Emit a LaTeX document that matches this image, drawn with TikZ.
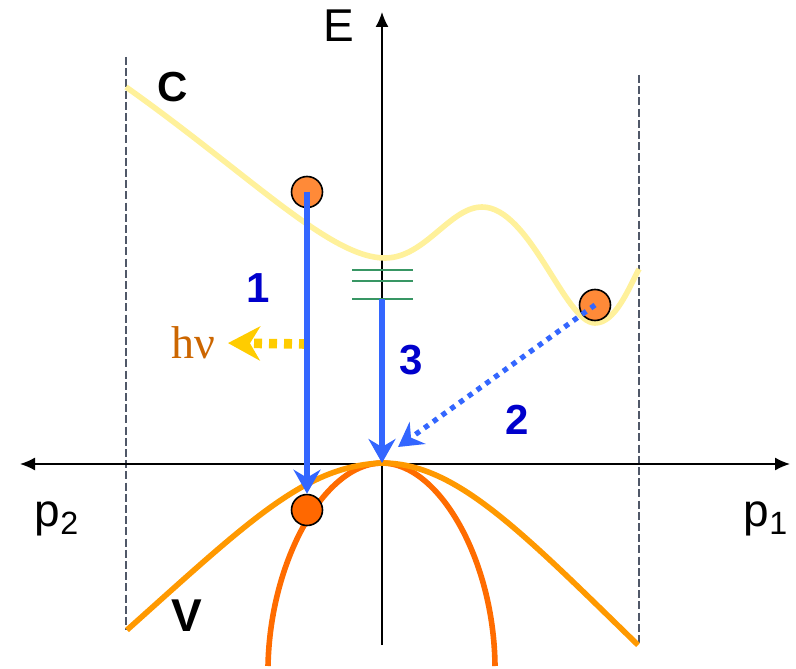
\documentclass[tikz,border=0pt]{standalone}
\usepackage{fontspec}
\setmainfont{Liberation Sans}
\newfontfamily\hvfont{Liberation Serif}
\usetikzlibrary{arrows.meta,positioning}
\definecolor{condband}{RGB}{255,241,155}
\definecolor{valwide}{RGB}{255,153,0}
\definecolor{valnarrow}{RGB}{255,108,0}
\definecolor{hotfill}{RGB}{255,138,56}
\definecolor{holefill}{RGB}{255,104,0}
\definecolor{jumpblue}{RGB}{51,102,255}
\definecolor{lblblue}{RGB}{0,0,204}
\definecolor{photon}{RGB}{255,204,0}
\definecolor{hvtext}{RGB}{204,102,0}
\definecolor{levelgreen}{RGB}{56,150,100}
\definecolor{edgegray}{RGB}{80,88,104}

\begin{document}
\begin{tikzpicture}[x=0.5pt,y=-0.5pt,
  axis/.style={line width=0.75pt},
  zone/.style={draw=edgegray,line width=0.7pt,dash pattern=on 4pt off 1.6pt},
  band/.style={line width=2.8pt},
  carrier/.style={circle,draw=black,line width=0.8pt,minimum size=15.5pt,inner sep=0pt},
  jump/.style={draw=jumpblue,line width=2.6pt,
    -{Stealth[length=12pt,width=13.5pt,inset=4pt]}},
  num/.style={font=\fontsize{21}{24}\selectfont\bfseries,text=lblblue},
  big/.style={font=\fontsize{23}{26}\selectfont},
  axtip/.tip={Latex[length=7.5pt,width=6.5pt]}]
\useasboundingbox (0,0) rectangle (796,668);
% axes and zone edges
\coordinate (pleft) at (20,464);
\coordinate (pright) at (790,464);
\coordinate (ebot) at (382,645);
\coordinate (etop) at (382,12);
\coordinate (zl1) at (126,57);
\coordinate (zl2) at (126,630);
\coordinate (zr1) at (639,75);
\coordinate (zr2) at (639,645);
\draw[zone] (zl1) -- (zl2);
\draw[zone] (zr1) -- (zr2);
\draw[axis,axtip-axtip] (pleft) -- (pright);
\draw[axis,-axtip] (ebot) -- (etop);
\node[big] (elabel) at (339,26) {E};
\node[big] (p2label) at (57,519) {p\textsubscript{2}};
\node[big] (p1label) at (766,519) {p\textsubscript{1}};
% bands
\draw[band,draw=condband] (126,87) .. controls (250,175) and (330,258) .. (385,258)
  .. controls (425,258) and (450,207) .. (482,207)
  .. controls (530,207) and (565,323) .. (595,323)
  .. controls (615,323) and (628,290) .. (639,269);
\draw[band,draw=valnarrow] (268,666) .. controls (270,560) and (325,463) .. (382,463)
  .. controls (439,463) and (494,560) .. (495,666);
\draw[band,draw=valwide] (127,630) .. controls (250,520) and (305,466) .. (382,463)
  .. controls (455,463) and (520,530) .. (638,645);
\node[font=\fontsize{21}{24}\selectfont\bfseries] (clabel) at (173,87) {C};
\node[font=\fontsize{23}{26}\selectfont\bfseries] (vlabel) at (187,616) {V};
% trap levels
\foreach \ly in {270,281,299}
  \draw[levelgreen,line width=1pt] (352,\ly) -- (413,\ly);
\coordinate (level) at (382,299);
\coordinate (gamma) at (382,463);
% carriers
\node[carrier,fill=hotfill] (hot) at (307,192) {};
\node[carrier,fill=hotfill] (valley) at (595,305) {};
\node[carrier,fill=holefill] (hole) at (307,510) {};
% transitions
\coordinate (emit) at (307,344);
\coordinate (tip2) at (398,447);
\node[font=\hvfont\fontsize{23}{26}\selectfont,text=hvtext] (hv) at (193,343) {hν};
\draw[draw=photon,line width=4.8pt,dash pattern=on 4pt off 3.5pt,
  -{Stealth[length=16pt,width=17pt,inset=5pt]},shorten >=3pt] (emit) -- (hv.east);
\draw[jump] (hot.center) -- (hole.north);
\draw[jump] (level) -- (gamma);
\draw[jump,line width=2.6pt,dash pattern=on 2.6pt off 2.8pt] (valley.center) -- (tip2);
\node[num] (one) at (258,288) {1};
\node[num] (two) at (517,420) {2};
\node[num] (three) at (411,360) {3};
\end{tikzpicture}
\end{document}
